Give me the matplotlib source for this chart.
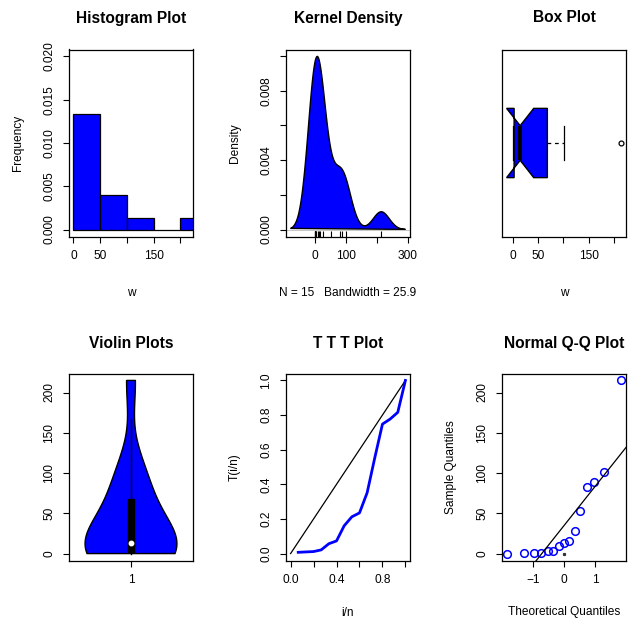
import numpy as np
import matplotlib
matplotlib.use("Agg")
import matplotlib.pyplot as plt
from matplotlib.patches import Polygon, Rectangle
from statistics import NormalDist

plt.rcParams['font.family'] = ['Liberation Sans', 'DejaVu Sans']
plt.rcParams['font.size'] = 8.6

# data (sorted sample, n = 15)
w = np.array([0.3, 0.4, 0.5, 1, 3, 4, 10, 14, 16, 28, 53, 83, 89, 101, 215])
hist_breaks = [0, 50, 100, 150, 200, 250]
kde_bw = 25.9

titles = ["Histogram Plot", "Kernel Density", "Box Plot",
          "Violin Plots", "T T T Plot", "Normal Q-Q Plot"]

BLUE = "#0000ff"
W, H = 628, 618


def make_ax(fig, x0, y0, x1, y1):
    return fig.add_axes([x0 / W, 1 - y1 / H, (x1 - x0) / W, (y1 - y0) / H])


def ext(lo, hi):
    d = (hi - lo) * 0.04
    return lo - d, hi + d


def style(ax):
    for sp in ax.spines.values():
        sp.set_linewidth(0.9)
    ax.tick_params(length=4.5, width=0.8, pad=5.5, labelsize=8.6)
    ax.tick_params(axis='y', labelrotation=90)
    for lab in ax.get_yticklabels():
        lab.set_va('center')


def labels(ax, title, xl, yl, xoff, toff):
    ax.text(0.5, 1 + toff / 187, title, transform=ax.transAxes, ha='center',
            va='center', fontsize=11.2, fontweight='bold')
    if xl:
        ax.text(0.5, -xoff / 187, xl, transform=ax.transAxes, ha='center', va='center')
    if yl:
        ax.text(-51 / 124, 0.5, yl, transform=ax.transAxes, ha='center', va='center',
                rotation=90)


def gauss_kde(x, data, h):
    z = (x[:, None] - data[None, :]) / h
    return np.exp(-0.5 * z ** 2).sum(axis=1) / (len(data) * h * np.sqrt(2 * np.pi))


n = len(w)
med = np.median(w)
lo_h = (w[3] + w[4]) / 2   # tukey hinges
hi_h = (w[10] + w[11]) / 2
iqr = hi_h - lo_h

fig = plt.figure(figsize=(W / 100, H / 100), dpi=100)
cols = [(69, 193), (286, 410), (502, 626)]
rows = [(49.5, 236.5), (373.5, 560.5)]

# histogram
ax = make_ax(fig, cols[0][0], rows[0][0], cols[0][1], rows[0][1])
ax.hist(w, bins=hist_breaks, density=True, color=BLUE, edgecolor='black', linewidth=0.9)
ax.set_xlim(*ext(w.min(), w.max()))
ax.set_ylim(*ext(0, 0.02))
ax.set_xticks([0, 50, 100, 150, 200], ['0', '50', '', '150', ''])
ax.set_yticks([0, 0.005, 0.01, 0.015, 0.02], ['0.000', '0.005', '0.010', '0.015', '0.020'])
style(ax)
labels(ax, titles[0], "w", "Frequency", 56, 31.5)

# kernel density
ax = make_ax(fig, cols[1][0], rows[0][0], cols[1][1], rows[0][1])
xs = np.linspace(w.min() - 3 * kde_bw, w.max() + 3 * kde_bw, 512)
dens = gauss_kde(xs, w, kde_bw)
ax.axhline(0, color='#bebebe', lw=0.6)
ax.fill(xs, dens, facecolor=BLUE, edgecolor='black', lw=1.0)
ax.set_xlim(*ext(xs[0], xs[-1]))
ax.set_ylim(*ext(0, dens.max()))
ylo, yhi = ax.get_ylim()
ax.vlines(w, ylo, ylo + 0.03 * (yhi - ylo), color='black', lw=0.8)
ax.set_xticks([0, 100, 200, 300], ['0', '100', '', '300'])
ax.set_yticks([0, 0.002, 0.004, 0.006, 0.008, 0.010], ['0.000', '', '0.004', '', '0.008', ''])
style(ax)
labels(ax, titles[1], "N = %d   Bandwidth = %.1f" % (n, kde_bw), "Density", 57, 31.5)

# notched box plot (horizontal)
ax = make_ax(fig, cols[2][0], rows[0][0], cols[2][1], rows[0][1])
notch = 1.58 * iqr / np.sqrt(n)
n_lo, n_hi = med - notch, med + notch
hw = 0.2
upper_wh = w[w <= hi_h + 1.5 * iqr].max()
lower_wh = w[w >= lo_h - 1.5 * iqr].min()
outl = w[(w > hi_h + 1.5 * iqr) | (w < lo_h - 1.5 * iqr)]
xx = [lo_h, n_lo, med, n_hi, hi_h, hi_h, n_hi, med, n_lo, lo_h]
yy = [1 + hw, 1 + hw, 1 + hw / 2, 1 + hw, 1 + hw, 1 - hw, 1 - hw, 1 - hw / 2, 1 - hw, 1 - hw]
ax.add_patch(Polygon(np.column_stack([xx, yy]), closed=True, facecolor=BLUE,
                     edgecolor='black', lw=1.0))
ax.plot([med, med], [1 - hw / 2, 1 + hw / 2], color='black', lw=3, solid_capstyle='butt')
ax.plot([hi_h, upper_wh], [1, 1], color='black', lw=0.9, ls=(0, (3, 3)))
ax.plot([lower_wh, lo_h], [1, 1], color='black', lw=0.9, ls=(0, (3, 3)))
ax.plot([upper_wh, upper_wh], [1 - hw / 2, 1 + hw / 2], color='black', lw=0.9)
ax.plot([lower_wh, lower_wh], [1 - hw / 2, 1 + hw / 2], color='black', lw=0.9)
ax.plot(outl, np.ones_like(outl), 'o', mfc='none', mec='black', ms=3.5, mew=0.9)
ax.set_xlim(*ext(min(n_lo, w.min()), w.max()))
ax.set_ylim(*ext(0.5, 1.5))
ax.set_xticks([0, 50, 100, 150, 200], ['0', '50', '', '150', ''])
ax.set_yticks([])
style(ax)
labels(ax, titles[2], "w", None, 56, 31.5)

# violin plot
ax = make_ax(fig, cols[0][0], rows[1][0], cols[0][1], rows[1][1])
h_v = w.std(ddof=1) * (4 / (3 * n)) ** 0.2
ys = np.linspace(w.min(), w.max(), 512)
dv = gauss_kde(ys, w, h_v)
dv = dv / dv.max() * 0.4
poly = np.column_stack([np.r_[1 - dv, (1 + dv)[::-1]], np.r_[ys, ys[::-1]]])
ax.add_patch(Polygon(poly, closed=True, facecolor=BLUE, edgecolor='black', lw=1.0))
ax.plot([1, 1], [lower_wh, min(hi_h + 1.5 * iqr, w.max())], color='black', lw=1.0)
ax.add_patch(Rectangle((1 - 0.027, lo_h), 0.054, hi_h - lo_h, facecolor='black', edgecolor='black'))
ax.plot([1], [med], 'o', color='white', ms=3.2, mec='white')
ax.set_xlim(*ext(0.5, 1.5))
ax.set_ylim(*ext(w.min(), w.max()))
ax.set_xticks([1], ['1'])
ax.set_yticks([0, 50, 100, 150, 200])
style(ax)
labels(ax, titles[3], None, None, 52, 30)

# TTT plot
ax = make_ax(fig, cols[1][0], rows[1][0], cols[1][1], rows[1][1])
idx = np.arange(1, n + 1)
ttt = (np.cumsum(w) + (n - idx) * w) / w.sum()
ax.plot([0, 1], [0, 1], color='black', lw=0.9)
ax.plot(idx / n, ttt, color=BLUE, lw=2.0)
ax.set_xlim(*ext(0, 1))
ax.set_ylim(*ext(0, 1))
ax.set_xticks([0, 0.2, 0.4, 0.6, 0.8, 1.0], ['0.0', '', '0.4', '', '0.8', ''])
ax.set_yticks([0, 0.2, 0.4, 0.6, 0.8, 1.0], ['0.0', '0.2', '0.4', '0.6', '0.8', '1.0'])
style(ax)
labels(ax, titles[4], "i/n", "T(i/n)", 52, 30)

# normal Q-Q plot
ax = make_ax(fig, cols[2][0], rows[1][0], cols[2][1], rows[1][1])
nd = NormalDist()
pp = (idx - 0.5) / n
theo = np.array([nd.inv_cdf(p) for p in pp])
q1, q3 = np.percentile(w, [25, 75])
z1, z3 = nd.inv_cdf(0.25), nd.inv_cdf(0.75)
slope = (q3 - q1) / (z3 - z1)
icpt = q1 - slope * z1
ax.plot(theo, w, 'o', mfc='none', mec=BLUE, ms=5.5, mew=1.1)
ax.plot([0], [0], 's', color='#333333', ms=1.3)
ax.set_xlim(*ext(theo.min(), theo.max()))
ax.set_ylim(*ext(w.min(), w.max()))
xl = np.array(ax.get_xlim())
ax.plot(xl, icpt + slope * xl, color='black', lw=0.9)
ax.set_xlim(*xl)
ax.set_xticks([-1, 0, 1], ['\u22121', '0', '1'])
ax.set_yticks([0, 50, 100, 150, 200])
style(ax)
labels(ax, titles[5], "Theoretical Quantiles", "Sample Quantiles", 52, 30)

fig.savefig("out.png", dpi=100)
